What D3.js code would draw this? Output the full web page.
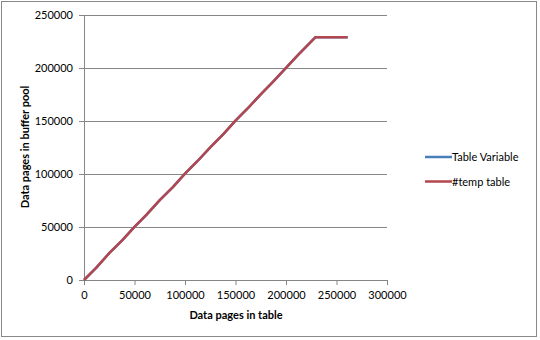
<!DOCTYPE html>
<html lang="en">
  <head>
    <meta charset="UTF-8" />
    <title>Buffer pool pages</title>
    <script src="https://d3js.org/d3.v7.min.js"></script>
    <style>
      body { margin: 0; background: #fff; }
      text { font-family: "Lato", "Open Sans", sans-serif; fill: #000; }
    </style>
  </head>
  <body>
    <svg width="540" height="340"></svg>
    <script>
      // pages in table (x) vs pages in buffer pool (y)
      const tablePages = [0, 12000, 25000, 38000, 50000, 62000, 75000, 88000, 100000, 112000, 125000, 138000, 150000, 162000, 175000, 188000, 200000, 212000, 229000, 245000, 261000];
      const tempPool   = [0, 11500, 25300, 37600, 50200, 61700, 75300, 87600, 100300, 111800, 125200, 137700, 150300, 161800, 175200, 187800, 200200, 212300, 229000, 229000, 229000];
      const tvarPool   = [0, 11500, 25300, 37600, 50200, 61700, 75300, 87600, 100300, 111800, 125200, 137700, 150300, 161800, 175200, 187800, 200200, 212300, 229000, 229000, 229000];
      const seriesNames = ["Table Variable", "#temp table"];
      const xTicks = [0, 50000, 100000, 150000, 200000, 250000, 300000];
      const yTicks = [0, 50000, 100000, 150000, 200000, 250000];

      const svg = d3.select("svg");

      // outer chart border
      svg.append("rect")
        .attr("x", 1.5).attr("y", 1.5)
        .attr("width", 535).attr("height", 335)
        .attr("fill", "none").attr("stroke", "#888");

      const x = d3.scaleLinear().domain([0, 300000]).range([84, 387]);
      const y = d3.scaleLinear().domain([0, 250000]).range([280, 15]);

      // gridlines
      svg.append("g").selectAll("line")
        .data(yTicks.slice(1))
        .enter().append("line")
        .attr("x1", x(0)).attr("x2", x(300000))
        .attr("y1", d => Math.round(y(d)) + 0.5).attr("y2", d => Math.round(y(d)) + 0.5)
        .attr("stroke", "#868686");

      // y axis
      const yAxis = svg.append("g")
        .attr("transform", `translate(${x(0)},0)`)
        .call(d3.axisLeft(y).tickValues(yTicks).tickFormat(d3.format("d")).tickSize(5).tickPadding(6));
      // x axis
      const xAxis = svg.append("g")
        .attr("transform", `translate(0,${y(0)})`)
        .call(d3.axisBottom(x).tickValues(xTicks).tickFormat(d3.format("d")).tickSize(5).tickPadding(6));

      [yAxis, xAxis].forEach(a => {
        a.selectAll("path, line").attr("stroke", "#868686");
        a.selectAll("text").style("font-size", "11px");
      });

      // lines
      const line = d3.line().x(d => x(d[0])).y(d => y(d[1]));
      const colors = ["#4a7ebb", "#b3464f"];
      [tvarPool, tempPool].forEach((vals, i) => {
        svg.append("path")
          .datum(tablePages.map((t, j) => [t, vals[j]]))
          .attr("d", line)
          .attr("fill", "none")
          .attr("stroke", colors[i])
          .attr("stroke-width", 2.5)
          .attr("stroke-linejoin", "round");
      });

      // axis titles
      svg.append("text")
        .attr("x", 236).attr("y", 319)
        .attr("text-anchor", "middle")
        .style("font-size", "11px").style("font-weight", "bold")
        .text("Data pages in table");
      svg.append("text")
        .attr("transform", "translate(29,147) rotate(-90)")
        .attr("text-anchor", "middle")
        .style("font-size", "11px").style("font-weight", "bold")
        .text("Data pages in buffer pool");

      // legend
      const legend = svg.append("g").selectAll("g")
        .data(seriesNames)
        .enter().append("g")
        .attr("transform", (d, i) => `translate(425,${157 + i * 24.5})`);
      legend.append("line")
        .attr("x1", 0).attr("x2", 27)
        .attr("stroke", (d, i) => colors[i])
        .attr("stroke-width", 2.5);
      legend.append("text")
        .attr("x", 27).attr("y", 4)
        .style("font-size", "11px")
        .text(d => d);
    </script>
  </body>
</html>
